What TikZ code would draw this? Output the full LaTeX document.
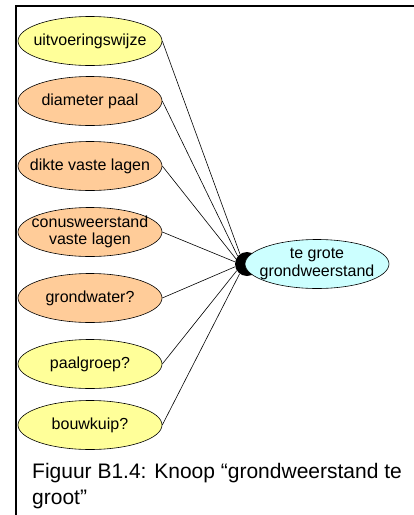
\documentclass[tikz,border=0pt]{standalone}
\usepackage{fontspec}
\setmainfont{Liberation Sans}
\usetikzlibrary{shapes.geometric}
\definecolor{lemon}{RGB}{255,255,153}
\definecolor{peach}{RGB}{255,204,153}
\definecolor{ice}{RGB}{204,255,255}

\begin{document}
\begin{tikzpicture}[x=1pt,y=-1pt,
    factor/.style={ellipse,draw,line width=0.6pt,fill=#1,minimum width=144pt,minimum height=49pt,
      inner xsep=-20pt,inner ysep=-5pt,align=center,font=\fontsize{16}{17.5}\selectfont},
    link/.style={line width=0.6pt}]
    \useasboundingbox (0,0) rectangle (414,515);
    % frame, only top and left edge
    \draw[line width=2pt] (414,6) -- (16,6) -- (16,515);
    % black knot, half hidden behind the target
    \node[circle,fill=black,minimum size=24pt,inner sep=0pt] (knot) at (247,264) {};
    \node[factor=ice] (doel) at (317,264) {te grote\\grondweerstand};
    \foreach \t/\c/\y/\a [count=\i from 0] in {
      uitvoeringswijze/lemon/41/125,
      diameter paal/peach/101/140,
      dikte vaste lagen/peach/166/155,
      conusweerstand\\vaste lagen/peach/232/170,
      grondwater?/peach/298/193,
      paalgroep?/lemon/364/213,
      bouwkuip?/lemon/425/233}
    {
      \node[factor=\c] (f\i) at (90,\y) {\t};
      \draw[link] (f\i.east) -- (knot.\a);
    }
    \node[anchor=north west,align=left,inner sep=0pt,font=\fontsize{21}{26}\selectfont] (bijschrift) at (32,463)
      {Figuur B1.4: Knoop “grondweerstand te\\groot”};
  \end{tikzpicture}
\end{document}
